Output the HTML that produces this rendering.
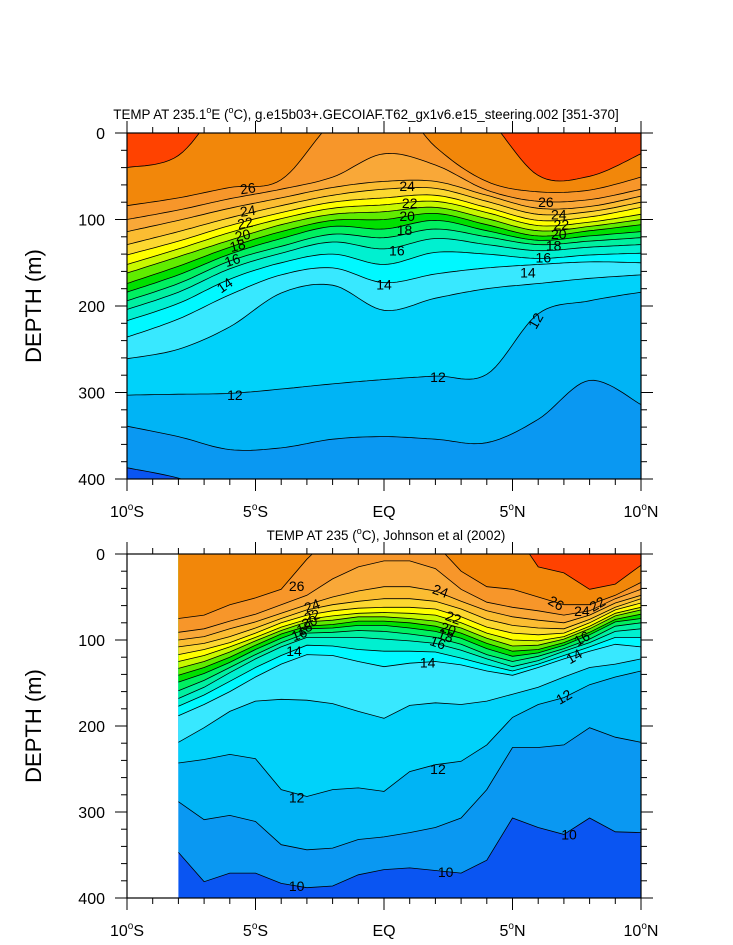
<!DOCTYPE html>
<html><head><meta charset="utf-8"><title>TEMP sections</title>
<style>
html,body{margin:0;padding:0;background:#fff;}
svg{display:block;font-family:"Liberation Sans",Arial,sans-serif;}
</style></head>
<body>
<svg id="chart" width="733" height="945" viewBox="0 0 733 945" xmlns="http://www.w3.org/2000/svg">
<defs>
<clipPath id="clipTop"><rect x="127" y="133" width="514" height="346"/></clipPath>
<clipPath id="clipBot"><rect x="127" y="554" width="514" height="344"/></clipPath>
</defs>
<g id="topPanel"></g>
<g id="botPanel"></g>
</svg>
<script>
// ---------- DATA ----------
const latTop = [-10,-8,-6,-4,-2,0,2,4,6,8,10];
const levelsTop = [27,26,25,24,23,22,21,20,19,18,17,16,15,14,13,12,11,10];
const top27 = [40,26,-42,-65,-65,-65,-65,-19,49,50,24];
const top26 = [84,75,63,54,-13,-48,16,56,68,66,51];
const top25 = [100,89,76,65,51,24,37,66,79,77,65];
const top24 = [114,101,87,75,63,56,56,72,87,85,73];
const top23 = [129,114,98,84,72,65,64,79,94,91,80];
const top22 = [141,125,107,92,80,75,72,86,101,97,86];
const top21 = [152,134,115,99,87,83,79,92,107,103,94];
const top20 = [162,143,124,106,94,91,86,99,113,108,100];
const top19 = [174,154,132,114,101,100,93,106,119,113,106];
const top18 = [184,164,140,122,108,111,101,113,124,119,114];
const top17 = [194,174,148,131,117,121,111,120,129,125,121];
const top16 = [204,184,157,139,126,134,122,129,136,132,129];
const top15 = [217,197,169,150,140,152,138,140,145,141,139];
const top14 = [236,215,187,164,156,173,163,156,152,149,150];
const top13 = [261,250,224,185,176,205,191,180,174,168,164];
const top12 = [303,302,301,296,290,285,281,279,209,194,184];
const top11 = [339,351,366,364,354,351,354,358,331,286,314];
const top10 = [387,399,419,430,430,430,430,430,430,430,430];

const latBot = [-8,-7,-6,-5,-4,-3,-2,-1,0,1,2,3,4,5,6,7,8,9,10];
const levelsBot = [27,26,25,24,23,22,21,20,19,18,17,16,15,14,13,12,11,10];
const bot27 = [-29,-29,-29,-29,-29,-29,-29,-29,-29,-29,-29,-29,-29,-29,15,22,41,35,13];
const bot26 = [75,71,59,51,41,6,-23,-23,-23,-23,-12,20,38,41,50,59,59,48,33];
const bot25 = [91,87,78,70,59,48,29,15,8,8,17,41,56,62,66,71,66,52,41];
const bot24 = [100,96,87,79,69,59,50,43,38,38,43,55,66,73,77,80,71,57,48];
const bot23 = [108,104,96,86,75,65,59,55,52,52,55,64,76,83,86,87,76,62,52];
const bot22 = [117,111,103,92,80,71,66,63,62,62,64,73,85,92,94,92,80,65,57];
const bot21 = [125,118,108,97,85,76,72,69,68,69,71,80,92,100,101,96,84,69,62];
const bot20 = [133,125,114,101,89,79,77,73,73,75,78,86,98,107,106,99,87,72,65];
const bot19 = [141,132,120,106,93,84,82,78,78,80,84,92,104,113,111,103,91,76,70];
const bot18 = [149,139,126,111,98,87,86,83,83,86,90,98,110,119,115,106,94,79,75];
const bot17 = [159,147,132,117,103,92,91,89,90,93,97,105,117,125,119,110,99,84,80];
const bot16 = [168,155,138,122,108,97,97,97,99,101,104,112,122,131,124,113,103,90,87];
const bot15 = [177,164,148,132,118,106,107,111,113,113,114,121,129,136,128,118,108,97,97];
const bot14 = [188,175,160,143,128,117,118,125,131,127,125,129,136,141,132,122,113,105,108];
const bot13 = [219,202,183,171,169,170,174,183,191,176,173,175,171,163,155,143,132,128,122];
const bot12 = [243,239,233,238,274,282,274,272,276,253,245,241,222,190,175,167,152,143,136];
const bot11 = [288,309,304,311,338,344,342,332,329,324,318,307,274,225,225,222,202,213,219];
const bot10 = [347,381,371,371,383,388,386,373,367,365,368,371,356,307,318,326,307,323,324];

const bandColors = {27:"#FF4200",26:"#F2870A",25:"#F7962A",24:"#F9A838",23:"#FBBD32",22:"#FCD830",
 21:"#FFFF00",20:"#C8F800",19:"#60EC00",18:"#00E000",17:"#00F060",16:"#00F0A0",15:"#00F0D0",
 14:"#00F8FF",13:"#38E8FF",12:"#00D2FA",11:"#00B4F5",10:"#0A98F2"};
const coldColor = "#0A55F2";

const xTicksLat = [-10,-5,0,5,10];
const xTickLabels = ["10°S","5°S","EQ","5°N","10°N"];
const yTicks = [0,100,200,300,400];

const labelsTop = [
 [-5.3,64,"26",-8],[-5.3,90,"24",-8],[-5.4,104,"22",-10],[-5.5,118,"20",-12],[-5.7,130,"18",-14],[-5.9,147,"16",-18],[-6.2,176,"14",-35],
 [0.9,61,"24",0],[1,81,"22",0],[0.9,96,"20",0],[0.8,112,"18",0],[0.5,136,"16",0],[0,175,"14",0],
 [6.3,80,"26",0],[6.8,94,"24",0],[6.9,106,"22",0],[6.8,117,"20",0],[6.6,130,"18",0],[6.2,144,"16",0],[5.6,161,"14",0],
 [5.9,217,"12",-60],[-5.8,303,"12",0],[2.1,282,"12",0]];
const labelsBot = [
 [-3.4,37,"26",0],[-2.8,60,"24",-20],[-2.8,72,"22",-20],[-2.9,79,"20",-20],[-3.1,86,"18",-20],[-3.3,93,"16",-20],[-3.5,113,"14",0],
 [2.2,43,"24",20],[2.7,74,"22",20],[2.5,87,"20",20],[2.4,95,"18",20],[2.1,103,"16",20],[1.7,126,"14",0],
 [6.7,57,"26",30],[7.7,66,"24",0],[8.3,58,"22",-30],[7.7,98,"16",-30],[7.4,119,"14",-30],[7,166,"12",-30],
 [2.1,250,"12",0],[-3.4,283,"12",0],[-3.4,386,"10",0],[2.4,370,"10",0],[7.2,326,"10",0]];

// ---------- DRAW ----------
const NS = "http://www.w3.org/2000/svg";
function mk(tag, attrs, parent){const e=document.createElementNS(NS,tag);for(const k in attrs)e.setAttribute(k,attrs[k]);parent.appendChild(e);return e;}

function catmull(pts, n){
  const out=[];
  for(let i=0;i<pts.length-1;i++){
    const p0=pts[Math.max(i-1,0)],p1=pts[i],p2=pts[i+1],p3=pts[Math.min(i+2,pts.length-1)];
    for(let t=0;t<n;t++){const s=t/n,s2=s*s,s3=s2*s;
      out.push([0.5*((2*p1[0])+(-p0[0]+p2[0])*s+(2*p0[0]-5*p1[0]+4*p2[0]-p3[0])*s2+(-p0[0]+3*p1[0]-3*p2[0]+p3[0])*s3),
                0.5*((2*p1[1])+(-p0[1]+p2[1])*s+(2*p0[1]-5*p1[1]+4*p2[1]-p3[1])*s2+(-p0[1]+3*p1[1]-3*p2[1]+p3[1])*s3)]);}
  }
  out.push(pts[pts.length-1]);return out;
}

function panel(g, cfg){
  const L=127,R=641,T=cfg.top,B=cfg.bottom;
  const xS=lat=>L+(lat+10)/20*(R-L);
  const yS=d=>T+d/400*(B-T);
  const clip=mk("g",{"clip-path":"url(#"+cfg.clip+")"},g);
  const x0=xS(cfg.lats[0]);
  const bg=mk("rect",{x:x0,y:T,width:R-x0,height:B-T,fill:coldColor},clip);
  
  
  const lines=[];
  for(let k=cfg.levels.length-1;k>=0;k--){
    const lev=cfg.levels[k],arr=cfg.series[k];
    let pts=cfg.lats.map((la,i)=>[xS(la),yS(arr[i])]);
    if(cfg.smooth)pts=catmull(pts,12);
    const poly=pts.map(p=>p[0].toFixed(1)+","+p[1].toFixed(1)).join(" ")+" "+(R+2)+","+(T-60)+" "+(x0)+","+(T-60);
    const f=mk("polygon",{points:poly,fill:bandColors[lev]},clip);
    
    
    lines.push([lev,pts]);
  }
  lines.forEach(([lev,pts])=>{
    const pl=mk("polyline",{points:pts.map(p=>p[0].toFixed(1)+","+p[1].toFixed(1)).join(" "),fill:"none",stroke:"#000","stroke-width":"0.8"},clip);
    
    
  });
  cfg.labels.forEach(l=>{
    const x=xS(l[0]),y=yS(l[1]);
    const t=mk("text",{x:x,y:y+5,"font-size":"14","text-anchor":"middle",fill:"#000",transform:"rotate("+l[3]+" "+x+" "+y+")"},clip);
    t.textContent=l[2];
    
    
  });
  const fr=mk("rect",{x:L,y:T,width:R-L,height:B-T,fill:"none",stroke:"#000","stroke-width":"1.2"},g);
  
  
  for(let la=-10;la<=10;la++){
    const x=xS(la),maj=(la%5===0),len=maj?12:6;
    mk("line",{x1:x,y1:B,x2:x,y2:B+len,stroke:"#000","stroke-width":"1"},g);
    mk("line",{x1:x,y1:T,x2:x,y2:T-len,stroke:"#000","stroke-width":"1"},g);
  }
  for(let d=0;d<=400;d+=20){
    const y=yS(d),maj=(d%100===0),len=maj?12:6;
    mk("line",{x1:L,y1:y,x2:L-len,y2:y,stroke:"#000","stroke-width":"1"},g);
    mk("line",{x1:R,y1:y,x2:R+len,y2:y,stroke:"#000","stroke-width":"1"},g);
  }
  xTicksLat.forEach((la,i)=>{
    const lab=xTickLabels[i];const t=mk("text",{x:xS(la),y:B+38,"font-size":"16","text-anchor":"middle",fill:"#000"},g);
    if(lab.indexOf("°")>=0){const pr=lab.split("°");
      const a=mk("tspan",{},t);a.textContent=pr[0];
      const b=mk("tspan",{dy:"-7","font-size":"10"},t);b.textContent="o";
      const c=mk("tspan",{dy:"7"},t);c.textContent=pr[1];}
    else t.textContent=lab;
    
    
  });
  yTicks.forEach(d=>{
    const t=mk("text",{x:105,y:yS(d)+6,"font-size":"16","text-anchor":"end",fill:"#000"},g);
    t.textContent=String(d);
    
    
  });
  const ym=(T+B)/2;
  const yt=mk("text",{x:41,y:ym,"font-size":"22","text-anchor":"middle",fill:"#000",transform:"rotate(-90 41 "+ym+")"},g);
  yt.textContent="DEPTH (m)";
  
  
}

panel(document.getElementById("topPanel"),{top:133,bottom:479,clip:"clipTop",lats:latTop,levels:levelsTop,
  series:[top27,top26,top25,top24,top23,top22,top21,top20,top19,top18,top17,top16,top15,top14,top13,top12,top11,top10],
  smooth:true,labels:labelsTop});
panel(document.getElementById("botPanel"),{top:554,bottom:898,clip:"clipBot",lats:latBot,levels:levelsBot,
  series:[bot27,bot26,bot25,bot24,bot23,bot22,bot21,bot20,bot19,bot18,bot17,bot16,bot15,bot14,bot13,bot12,bot11,bot10],
  smooth:false,labels:labelsBot});

(function(){
  const svg=document.getElementById("chart");
  const t1=document.createElementNS(NS,"text");
  t1.setAttribute("x","366");t1.setAttribute("y","119");t1.setAttribute("font-size","13.4");t1.setAttribute("text-anchor","middle");
  t1.innerHTML='TEMP AT 235.1<tspan dy="-6" font-size="9">o</tspan><tspan dy="6">E (</tspan><tspan dy="-6" font-size="9">o</tspan><tspan dy="6">C), g.e15b03+.GECOIAF.T62_gx1v6.e15_steering.002 [351-370]</tspan>';
  
  
  svg.appendChild(t1);
  const t2=document.createElementNS(NS,"text");
  t2.setAttribute("x","386");t2.setAttribute("y","540");t2.setAttribute("font-size","13.4");t2.setAttribute("text-anchor","middle");
  t2.innerHTML='TEMP AT 235 (<tspan dy="-6" font-size="9">o</tspan><tspan dy="6">C), Johnson et al (2002)</tspan>';
  
  
  svg.appendChild(t2);
})();
</script>
</body></html>
